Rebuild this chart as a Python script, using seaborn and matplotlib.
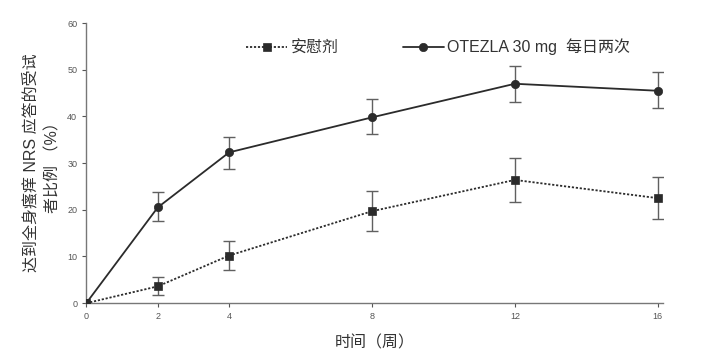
import matplotlib
matplotlib.use("Agg")
import matplotlib.pyplot as plt
import numpy as np
import pandas as pd
import seaborn as sns

# weeks and response rates (%)
weeks = [0, 2, 4, 8, 12, 16]
otezla = [0, 20.5, 32.3, 39.8, 47.0, 45.5]
otezla_lo = [0, 17.5, 28.8, 36.2, 43.1, 41.8]
otezla_hi = [0, 23.8, 35.7, 43.7, 50.8, 49.5]
placebo = [0, 3.6, 10.2, 19.7, 26.4, 22.5]
placebo_lo = [0, 1.8, 7.0, 15.4, 21.6, 18.0]
placebo_hi = [0, 5.6, 13.4, 24.0, 31.1, 27.0]

sns.set_style("white")
plt.rcParams['font.family'] = ['Liberation Sans', 'Noto Sans CJK SC', 'DejaVu Sans']

df = pd.DataFrame({
    "week": weeks * 2,
    "value": placebo + otezla,
    "group": ["安慰剂"] * len(weeks) + ["OTEZLA 30 mg  每日两次"] * len(weeks),
})

fig = plt.figure(figsize=[7.13, 3.55], dpi=100)
ax = fig.add_axes([0.121, 0.146, 0.809, 0.789])

line_col = "#2b2b2b"
err_col = "#606060"

# error bars first so markers sit on top
for vals, lo, hi in [(placebo, placebo_lo, placebo_hi), (otezla, otezla_lo, otezla_hi)]:
    v = np.array(vals)
    yerr = np.vstack([v - np.array(lo), np.array(hi) - v])
    mask = np.array(weeks) > 0
    ax.errorbar(np.array(weeks)[mask], v[mask], yerr=yerr[:, mask],
                fmt="none", ecolor=err_col, elinewidth=1.0, capsize=4, capthick=1.0,
                zorder=2)

sns.lineplot(data=df, x="week", y="value", hue="group", style="group",
             palette=[line_col, line_col],
             dashes={"安慰剂": (1.2, 1.0), "OTEZLA 30 mg  每日两次": ""},
             markers={"安慰剂": "s", "OTEZLA 30 mg  每日两次": "o"},
             markersize=6, markeredgecolor=line_col, markeredgewidth=0.5,
             linewidth=1.3, ax=ax, zorder=3)

ax.set_xlim(0, 16.15)
ax.set_ylim(0, 60)
ax.set_xticks([0, 2, 4, 8, 12, 16])
ax.set_yticks([0, 10, 20, 30, 40, 50, 60])
ax.tick_params(axis="both", labelsize=6.5, colors="#555555", length=3, width=0.8)
ax.tick_params(axis="both", direction="out")
ax.xaxis.set_ticks_position("bottom")
ax.yaxis.set_ticks_position("left")
for side in ["top", "right"]:
    ax.spines[side].set_visible(False)
for side in ["left", "bottom"]:
    ax.spines[side].set_color("#777777")
    ax.spines[side].set_linewidth(1.0)

ax.set_xlabel("时间（周）", fontsize=11.5, color="#333333", labelpad=10)
ax.set_ylabel("达到全身瘙痒 NRS 应答的受试\n者比例 （%）", fontsize=11.5, color="#333333",
              labelpad=5, linespacing=1.5)

leg = ax.legend(title=None, ncol=2, loc="center", bbox_to_anchor=(0.61, 0.915),
                frameon=False, fontsize=11.5, handlelength=2.6, columnspacing=4.0,
                handletextpad=0.2)
for t in leg.get_texts():
    t.set_color("#333333")

plt.savefig("out.png", dpi=100)
